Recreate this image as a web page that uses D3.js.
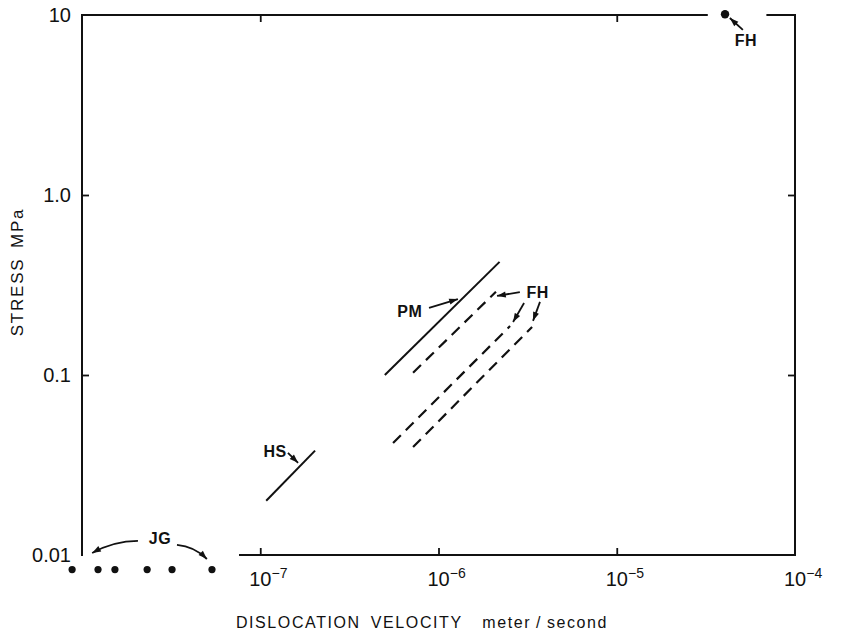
<!DOCTYPE html>
<html>
<head>
<meta charset="utf-8">
<script src="https://cdn.jsdelivr.net/npm/d3@7"></script>
<style>
  html, body { margin: 0; padding: 0; background: #fff; }
  svg { display: block; }
  text { font-family: "Liberation Sans", Arial, sans-serif; fill: #111; }
</style>
</head>
<body>
<svg id="chart" width="843" height="634"></svg>
<script>
// ---------------- data ----------------
const xTickValues = [1e-7, 1e-6, 1e-5, 1e-4];
const xTickExponents = ["-7", "-6", "-5", "-4"];
const yTickValues = [10, 1, 0.1, 0.01];
const yTickLabels = ["10", "1.0", "0.1", "0.01"];

// solid / dashed stress-velocity lines [velocity m/s, stress MPa]
const hsLine  = [[1.08e-7, 0.020], [2.03e-7, 0.038]];
const pmLine  = [[5.0e-7, 0.100], [2.2e-6, 0.425]];
const fhLine1 = [[7.2e-7, 0.103], [2.1e-6, 0.290]];
const fhLine2 = [[5.56e-7, 0.0419], [2.52e-6, 0.187]];
const fhLine3 = [[7.2e-7, 0.0398], [3.35e-6, 0.185]];

// point data
const jgVelocities = [8.8e-9, 1.23e-8, 1.53e-8, 2.32e-8, 3.2e-8, 5.36e-8];
const jgStress = 0.0083;
const fhPoint = [4.05e-5, 10.1];

// annotation labels (data coordinates)
const labelTexts = ["HS", "PM", "FH", "FH", "JG"];
const labelVel   = [1.21e-7, 6.9e-7, 3.6e-6, 5.31e-5, 2.74e-8];
const labelStr   = [0.0378, 0.227, 0.289, 7.27, 0.0124];

// annotation arrows: from -> to (data coordinates), bend in px
const arrowFrom = [[1.43e-7, 0.0369], [8.85e-7, 0.236], [2.86e-6, 0.289], [3.02e-6, 0.251], [3.71e-6, 0.255], [5.1e-5, 8.26], [2.06e-8, 0.01197], [3.41e-8, 0.01137]];
const arrowTo   = [[1.63e-7, 0.0325], [1.285e-6, 0.264], [2.13e-6, 0.275], [2.62e-6, 0.197], [3.39e-6, 0.200], [4.31e-5, 9.62], [1.14e-8, 0.01026], [5.02e-8, 0.0095]];
const arrowBend = [0, 0, 0, 0, 0, 0, -6, 6];

// axis extents
const xDomain = [1e-8, 1e-4];
const yDomain = [0.01, 10];
const bottomAxisStart = 7.7e-8;
const topGap = [3.2e-5, 7.0e-5];

// ---------------- chart ----------------
const svg = d3.select("#chart");
const x = d3.scaleLog().domain(xDomain).range([82, 795]);
const y = d3.scaleLog().domain(yDomain).range([555, 15]);

const ink = "#111";
const g = svg.append("g");

// frame lines
const frame = [
  [[xDomain[0], yDomain[0]], [xDomain[0], yDomain[1]]],
  [[xDomain[0], yDomain[1]], [topGap[0], yDomain[1]]],
  [[topGap[1], yDomain[1]], [xDomain[1], yDomain[1]]],
  [[xDomain[1], yDomain[1]], [xDomain[1], yDomain[0]]],
  [[bottomAxisStart, yDomain[0]], [xDomain[1], yDomain[0]]]
];
const lineGen = d3.line().x(d => x(d[0])).y(d => y(d[1]));
g.selectAll("path.frame").data(frame).join("path")
  .attr("class", "frame")
  .attr("d", lineGen)
  .attr("fill", "none").attr("stroke", ink).attr("stroke-width", 2)
  .attr("stroke-linecap", "square");

function styleAxis(sel) {
  sel.select(".domain").remove();
  sel.selectAll(".tick line").attr("stroke", ink).attr("stroke-width", 1.8);
  sel.selectAll(".tick text").remove();
}
g.append("g").attr("transform", `translate(0,${y(yDomain[0])})`)
  .call(d3.axisBottom(x).tickValues(xTickValues.slice(0, 3)).tickSize(-7).tickFormat(""))
  .call(styleAxis);
g.append("g").attr("transform", `translate(0,${y(yDomain[1])})`)
  .call(d3.axisTop(x).tickValues([xTickValues[0], xTickValues[2]]).tickSize(-7).tickFormat(""))
  .call(styleAxis);
g.append("g").attr("transform", `translate(${x(xDomain[0])},0)`)
  .call(d3.axisLeft(y).tickValues([yTickValues[1], yTickValues[2]]).tickSize(-7).tickFormat(""))
  .call(styleAxis);
g.append("g").attr("transform", `translate(${x(xDomain[1])},0)`)
  .call(d3.axisRight(y).tickValues([yTickValues[1], yTickValues[2]]).tickSize(-7).tickFormat(""))
  .call(styleAxis);

// y tick labels
g.selectAll("text.ylab").data(yTickValues).join("text")
  .attr("class", "ylab")
  .attr("x", 71)
  .attr("y", (d) => y(d))
  .attr("dy", "0.36em")
  .attr("text-anchor", "end")
  .attr("font-size", 20)
  .text((d, i) => yTickLabels[i]);

// x tick labels 10^n
const xl = g.selectAll("text.xlab").data(xTickValues).join("text")
  .attr("class", "xlab")
  .attr("x", d => x(d) - 11)
  .attr("y", 586)
  .attr("font-size", 20);
xl.append("tspan").text("10");
xl.append("tspan").attr("dy", -8).attr("font-size", 14).text((d, i) => xTickExponents[i].replace("-", "\u2212"));

// axis titles
g.append("text")
  .attr("x", 422).attr("y", 628)
  .attr("text-anchor", "middle")
  .attr("font-size", 16)
  .attr("letter-spacing", 1.6)
  .attr("word-spacing", 4)
  .text("DISLOCATION VELOCITY\u2002 meter\u2009/\u2009second");
g.append("text")
  .attr("transform", "translate(23,272) rotate(-90)")
  .attr("text-anchor", "middle")
  .attr("font-size", 17)
  .attr("letter-spacing", 1.8)
  .attr("word-spacing", 3)
  .text("STRESS MPa");

// data lines
g.selectAll("path.solid").data([hsLine, pmLine]).join("path")
  .attr("class", "solid").attr("d", lineGen)
  .attr("fill", "none").attr("stroke", ink).attr("stroke-width", 2);
g.selectAll("path.dashed").data([fhLine1, fhLine2, fhLine3]).join("path")
  .attr("class", "dashed").attr("d", lineGen)
  .attr("fill", "none").attr("stroke", ink).attr("stroke-width", 2.2)
  .attr("stroke-dasharray", "11,7");

// points
g.selectAll("circle.jg").data(jgVelocities).join("circle")
  .attr("class", "jg")
  .attr("cx", d => x(d)).attr("cy", y(jgStress)).attr("r", 3.6)
  .attr("fill", ink);
g.append("circle")
  .attr("cx", x(fhPoint[0])).attr("cy", y(fhPoint[1])).attr("r", 4.2)
  .attr("fill", ink);

// arrow marker
svg.append("defs").append("marker")
  .attr("id", "ah")
  .attr("viewBox", "0 0 10 8")
  .attr("refX", 10).attr("refY", 4)
  .attr("markerWidth", 10).attr("markerHeight", 7)
  .attr("markerUnits", "userSpaceOnUse")
  .attr("orient", "auto")
  .append("path").attr("d", "M0,0.5 L10,4 L0,7.5 Z").attr("fill", ink);

// arrows
g.selectAll("path.arrow").data(arrowFrom).join("path")
  .attr("class", "arrow")
  .attr("d", (d, i) => {
    const x0 = x(d[0]), y0 = y(d[1]);
    const x1 = x(arrowTo[i][0]), y1 = y(arrowTo[i][1]);
    const dx = x1 - x0, dy = y1 - y0, len = Math.hypot(dx, dy);
    const mx = (x0 + x1) / 2 + arrowBend[i] * dy / len;
    const my = (y0 + y1) / 2 - arrowBend[i] * dx / len;
    return `M${x0},${y0} Q${mx},${my} ${x1},${y1}`;
  })
  .attr("fill", "none").attr("stroke", ink).attr("stroke-width", 1.8)
  .attr("marker-end", "url(#ah)");

// labels
g.selectAll("text.ann").data(labelTexts).join("text")
  .attr("class", "ann")
  .attr("x", (d, i) => x(labelVel[i]))
  .attr("y", (d, i) => y(labelStr[i]))
  .attr("dy", "0.36em")
  .attr("text-anchor", "middle")
  .attr("font-size", 16)
  .attr("font-weight", "bold")
  .attr("letter-spacing", 0.5)
  .text(d => d);
</script>
</body>
</html>
